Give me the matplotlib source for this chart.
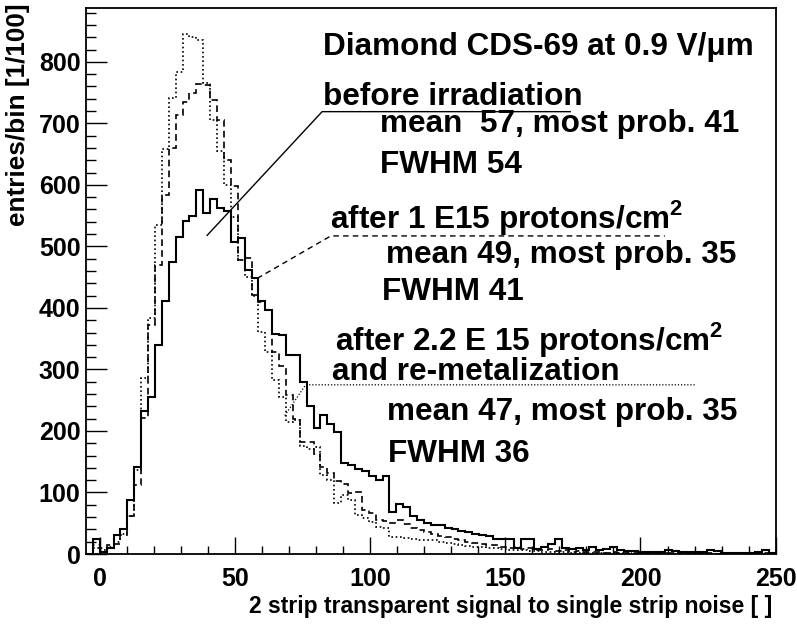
import numpy as np
import matplotlib
matplotlib.use("Agg")
import matplotlib.pyplot as plt

# 100 bins from -5 to 250
bin_lo, bin_hi, n_bins = -5, 250, 100

before_irr = [
    0, 25, 3, 9, 31, 41, 87, 141, 232, 256,
    339, 411, 475, 516, 542, 550, 592, 554, 577, 562,
    558, 507, 513, 461, 448, 412, 397, 358, 356, 323,
    323, 280, 240, 205, 226, 211, 198, 148, 145, 138,
    135, 127, 121, 127, 68, 81, 76, 62, 55, 51,
    47, 47, 43, 40, 38, 36, 33, 31, 29, 25,
    24, 24, 9, 24, 24, 8, 12, 17, 24, 10,
    8, 10, 6, 12, 7, 8, 11, 6, 5, 5,
    4, 4, 3, 3, 7, 5, 4, 4, 3, 3,
    6, 5, 2, 2, 1, 2, 2, 4, 6, 1,
]
after_1e15 = [
    0, 15, 9, 15, 17, 31, 61, 112, 221, 372,
    470, 584, 660, 714, 735, 750, 764, 762, 738, 706,
    640, 598, 478, 481, 421, 410, 396, 329, 305, 258,
    220, 182, 182, 162, 142, 131, 118, 113, 99, 100,
    72, 67, 56, 53, 50, 56, 48, 42, 39, 36,
    33, 30, 27, 25, 22, 20, 18, 17, 15, 14,
    12, 10, 11, 8, 9, 7, 6, 8, 5, 6,
    4, 5, 3, 4, 3, 2, 3, 2, 2, 1,
    2, 1, 1, 2, 1, 1, 0, 1, 1, 0,
    1, 0, 1, 0, 0, 1, 0, 0, 1, 0,
]
after_2e15 = [
    0, 10, 6, 12, 20, 33, 61, 136, 286, 383,
    535, 658, 741, 784, 845, 841, 836, 765, 706, 655,
    600, 548, 478, 450, 420, 361, 328, 283, 256, 215,
    218, 175, 170, 174, 128, 120, 83, 96, 88, 63,
    58, 52, 44, 42, 28, 27, 26, 24, 23, 23,
    22, 20, 18, 16, 14, 13, 12, 11, 10, 9,
    8, 7, 7, 6, 5, 5, 4, 4, 3, 3,
    2, 2, 2, 1, 1, 2, 1, 1, 1, 0,
    1, 0, 1, 0, 0, 1, 0, 0, 0, 0,
    0, 0, 0, 0, 0, 0, 0, 0, 0, 0,
]

# leader lines from each curve to its label (data coordinates)
lead_before = ([39.8, 82.3, 174], [518, 719, 719])
lead_1e15 = ([58.3, 85.5, 209], [448, 517, 517])
lead_2e15 = ([68.5, 76.2, 220.5], [225, 275, 275])

W, H = 797, 624
plt.rcParams["font.family"] = ["Liberation Sans", "DejaVu Sans"]
plt.rcParams["font.weight"] = "bold"
plt.rcParams["mathtext.fontset"] = "custom"
plt.rcParams["mathtext.rm"] = "Liberation Sans:bold"
plt.rcParams["mathtext.bf"] = "Liberation Sans:bold"


def px(x, y):
    """pixel position in the 797x624 picture -> figure fraction"""
    return x / W, 1 - y / H


fig = plt.figure(figsize=(W / 100, H / 100), dpi=100)
ax = fig.add_axes([86 / W, 1 - 554 / H, (775.7 - 86) / W, (554 - 8.3) / H])

edges = np.linspace(bin_lo, bin_hi, n_bins + 1)
ax.stairs(before_irr, edges, color="black", lw=1.5, ls="-")
ax.stairs(after_1e15, edges, color="black", lw=1.2, ls=(0, (4, 2.5)))
ax.stairs(after_2e15, edges, color="black", lw=1.2, ls=(0, (1, 1.6)))

ax.plot(*lead_before, color="black", lw=1.0)
ax.plot(*lead_1e15, color="black", lw=1.0, ls=(0, (4, 3)))
ax.plot(*lead_2e15, color="black", lw=0.9, ls=(0, (1, 1.5)))

ax.set_xlim(-5, 250)
ax.set_ylim(0, 887)
ax.set_xticks(np.arange(0, 251, 50))
ax.set_xticks(np.arange(0, 251, 10), minor=True)
ax.set_yticks(np.arange(0, 801, 100))
ax.set_yticks(np.arange(0, 881, 20), minor=True)
ax.tick_params(axis="x", which="major", direction="in", length=12, width=1.0,
               labelsize=18, pad=9)
ax.tick_params(axis="x", which="minor", direction="in", length=6, width=1.0)
ax.tick_params(axis="y", which="major", direction="in", length=15, width=1.0,
               labelsize=18, pad=4)
ax.tick_params(axis="y", which="minor", direction="in", length=7.5, width=1.0)
for lab in ax.get_xticklabels() + ax.get_yticklabels():
    lab.set_fontweight("bold")
for sp in ax.spines.values():
    sp.set_linewidth(1.3)

fig.text(*px(772, 606), "2 strip transparent signal to single strip noise [ ]",
         ha="right", va="center", fontsize=16.5, fontweight="bold")
fig.text(*px(18, 3), "entries/bin [1/100]", rotation=90,
         ha="center", va="top", fontsize=18.8, fontweight="bold")

labels = [
    (323, 55, "Diamond CDS-69 at 0.9 V/\u03bcm"),
    (323, 105, "before irradiation"),
    (380, 132, "mean  57, most prob. 41"),
    (380, 173, "FWHM 54"),
    (330, 228, "after 1 E15 protons/cm$^{2}$"),
    (386, 263, "mean 49, most prob. 35"),
    (382, 300, "FWHM 41"),
    (335, 350, "after 2.2 E 15 protons/cm$^{2}$"),
    (332, 380, "and re-metalization"),
    (387, 420, "mean 47, most prob. 35"),
    (388, 462, "FWHM 36"),
]
for x, y, s in labels:
    fig.text(*px(x, y), s, ha="left", va="baseline", fontsize=22.7,
             fontweight="bold")

fig.savefig("out.png", dpi=100)
